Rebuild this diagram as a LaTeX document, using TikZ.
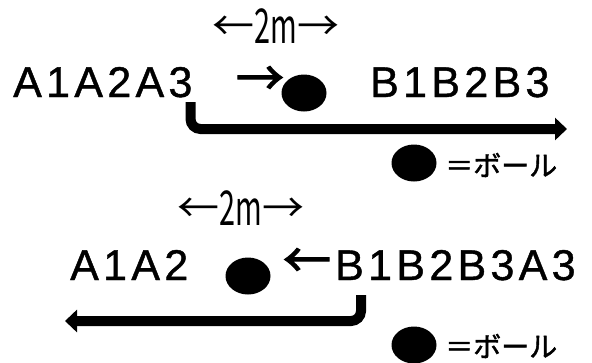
\documentclass[tikz,border=0pt]{standalone}
\usepackage{fontspec}
\setmainfont{Liberation Sans}
\newfontfamily\teamfont[LetterSpace=10,FakeBold=1]{Liberation Sans}
\newfontfamily\jpfont{Noto Sans CJK JP}
\newfontfamily\jpbold[FakeBold=1.5]{Noto Sans CJK JP}
\newfontfamily\jparrow[FakeBold=2.5]{Noto Sans CJK JP}
\newcommand{\twometre}{\scalebox{1.05}[1]{←}\raisebox{-3pt}{\scalebox{0.6}[1]{\fontsize{48}{48}\selectfont 2m}}\scalebox{1.05}[1]{→}}
\usetikzlibrary{arrows.meta,shapes.geometric}
\begin{document}
\begin{tikzpicture}[x=1pt,y=-1pt,
  team/.style={inner sep=0pt, anchor=base west, font=\teamfont\fontsize{43}{43}\selectfont},
  ball/.style={fill=black, ellipse, inner sep=0pt, minimum width=45pt, minimum height=37pt},
  legend/.style={inner sep=0pt, anchor=west, font=\jpbold\fontsize{28}{28}\selectfont},
  dist/.style={inner sep=0pt, font=\jpfont\fontsize{40}{40}\selectfont},
  small/.style={inner sep=0pt, font=\jparrow\fontsize{48}{48}\selectfont},
  run/.style={line width=10pt, rounded corners=10pt, -{Triangle[length=12pt,width=22pt]}}]
\useasboundingbox (0,0) rectangle (592,362);
% top
\node[dist] (d1) at (276,26) {\twometre};
\node[team] (ta) at (13,97) {A1A2A3};
\node[small] (tr) at (260,81) {→};
\node[ball] (tb) at (304,93) {};
\node[team] (tbb) at (370,97) {B1B2B3};
\coordinate (ts) at (190.5,102);
\coordinate (te) at (567,129);
\draw[run] (ts) |- (te);
\node[ball] (lb1) at (414,163) {};
\node[legend] (lt1) at (445,165) {＝ボール};
% bottom
\node[dist] (d2) at (241,208) {\twometre};
\node[team] (ba) at (70,280) {A1A2};
\node[ball] (bb) at (248,276) {};
\node[small] (br) at (307,263) {←};
\node[team] (bbb) at (335,280) {B1B2B3A3};
\coordinate (bs) at (361,295);
\coordinate (be) at (65,321);
\draw[run] (bs) |- (be);
\node[ball] (lb2) at (414,345) {};
\node[legend] (lt2) at (445,346) {＝ボール};
\end{tikzpicture}
\end{document}
